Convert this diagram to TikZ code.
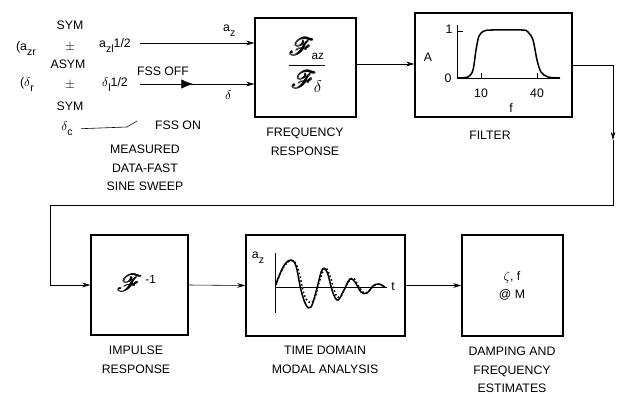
\documentclass[tikz,border=0pt]{standalone}
\usepackage{fontspec}
\setmainfont{Liberation Sans}
\usepackage{amsmath,mathrsfs}
\usetikzlibrary{arrows.meta,positioning}
\newcommand{\lsub}[1]{\raisebox{-0.4em}{\fontsize{9}{10}\selectfont #1}}

\begin{document}
\begin{tikzpicture}[x=0.03cm, y=-0.03cm,
    blockbox/.style={rectangle, draw, line width=1pt, inner sep=0pt},
    flowline/.style={-{Stealth[length=7pt,width=4pt]}, line width=0.5pt},
    caption/.style={align=center, font=\fontsize{10.5}{16}\selectfont, inner sep=0pt},
    lbl/.style={font=\fontsize{10.5}{12}\selectfont, inner sep=0pt}
  ]
    \useasboundingbox (0,0) rectangle (622,397);

    % measured inputs
    \node[lbl] (sym1) at (70,25)  {SYM};
    \node[lbl] (pm1)  at (70,47)  {$\pm$};
    \node[lbl] (asym) at (68,64)  {ASYM};
    \node[lbl] (pm2)  at (70,85)  {$\pm$};
    \node[lbl] (sym2) at (70,106) {SYM};
    \node[lbl] (dc)   at (67,129) {$\delta$\lsub{c}};
    \node[lbl] (azr)  at (26,49)  {(a\lsub{zr}};
    \node[lbl] (dr)   at (27,85)  {($\delta$\lsub{r}};
    \node[lbl] (azl)  at (115,46) {a\lsub{zl}1/2};
    \node[lbl] (dl)   at (115,85) {$\delta$\lsub{l}1/2};
    \node[lbl] (fssoff) at (163,71)  {FSS OFF};
    \node[lbl] (fsson)  at (178,125) {FSS ON};
    \node[caption] (meas) at (145,168) {MEASURED\\DATA-FAST\\SINE SWEEP};

    % blocks
    \node[blockbox, minimum width=3.03cm, minimum height=2.97cm] (freq) at (305.5,67.5) {};
    \node[blockbox, minimum width=4.71cm, minimum height=3.12cm] (filt) at (493.5,65) {};
    \node[blockbox, minimum width=2.91cm, minimum height=3cm]    (imp)  at (139.5,285) {};
    \node[blockbox, minimum width=4.77cm, minimum height=3.03cm] (tdom) at (325.5,285.5) {};
    \node[blockbox, minimum width=3.03cm, minimum height=3.03cm] (damp) at (512.5,285.5) {};

    \node[caption] (freqlbl) at (305,142) {FREQUENCY\\RESPONSE};
    \node[caption] (filtlbl) at (490,135) {FILTER};
    \node[caption] (implbl)  at (136,360) {IMPULSE\\RESPONSE};
    \node[caption] (tdomlbl) at (325,360) {TIME DOMAIN\\MODAL ANALYSIS};
    \node[caption] (damplbl) at (512,370) {DAMPING AND\\FREQUENCY\\ESTIMATES};

    % block contents
    \node (ratio) at (307,65) {\huge$\dfrac{\pmb{\mathscr{F}}_{\!\text{\normalsize az}}}{\pmb{\mathscr{F}}_{\!\delta}}$};
    \node (finv) at (137,283) {\huge$\pmb{\mathscr{F}}^{\,\text{\normalsize -1}}$};
    \node[caption] (est) at (512,286) {$\zeta$, f\\@ M};

    % filter sketch
    \draw[line width=0.6pt] (457,25) -- (457,78) -- (560,78);
    \draw[line width=0.6pt] (457,31) -- (463,31);
    \draw[line width=0.5pt] (481,73) -- (481,78) (537,73) -- (537,78);
    \draw[line width=1.3pt] plot[smooth, tension=0.5] coordinates {(457,78) (468,77) (473,70) (476,50)
      (479,36) (484,31) (492,30) (522,30) (528,32) (533,40) (537,60) (541,72) (548,77) (560,78)};
    \node[lbl] (famp) at (428,57) {A};
    \node[lbl] (fone) at (449,29) {1};
    \node[lbl] (fzero) at (448,78) {0};
    \node[lbl] (ften) at (481,93) {10};
    \node[lbl] (fforty) at (537,93) {40};
    \node[lbl] (ffreq) at (511,108) {f};

    % time history sketch
    \draw[line width=0.6pt] (275,253) -- (275,313);
    \draw[line width=0.6pt] (275,287) -- (387,287);
    \draw[line width=1.3pt] plot[smooth, tension=0.6] coordinates {(276,285) (279,276) (285,264) (291,260)
      (296,266) (301,290) (306,305) (311,307) (316,292) (322,270) (327,272) (333,293) (338,300)
      (344,290) (350,279) (355,282) (361,292) (367,293) (373,286) (379,284) (385,287)};
    \draw[line width=1.3pt, dotted] plot[smooth, tension=0.6] coordinates {(277,282) (282,270) (288,262)
      (294,261) (299,272) (304,294) (309,302) (314,300) (319,283) (325,268) (330,276) (336,295)
      (341,296) (347,284) (353,278) (358,285) (364,293) (370,290) (376,284) (383,286)};
    \node[lbl] (taz) at (258,258) {a\lsub{z}};
    \node[lbl] (ttime) at (393,287) {t};

    % input switch and arrows
    \coordinate (azin) at (140,43);
    \coordinate (dlin) at (140,84);
    \coordinate (swtip) at (193,84);
    \coordinate (swbend) at (127,127);
    \coordinate (swend) at (137,121);
    \draw[flowline] (azin) -- (azin -| freq.west) node[pos=0.78, above=5pt, lbl] {a\lsub{z}};
    \draw[flowline] (dlin) -- (dlin -| freq.west) node[pos=0.77, below=5pt, lbl] {$\delta$};
    \draw[-{Latex[length=10pt,width=8pt]}, line width=0.5pt] (dlin) -- (swtip);
    \draw[line width=0.5pt, shorten <=7pt] (dc.east) -- (swbend) -- (swend);

    % signal flow
    \coordinate (dropmid) at (613,140);
    \coordinate (turnA) at (613,205);
    \coordinate (turnB) at (50,205);
    \draw[flowline] (freq.east |- 0,64) -- (filt.west |- 0,64);
    \draw[flowline] (filt.east) -| (dropmid);
    \draw[flowline] (dropmid) -- (turnA) -- (turnB) |- (imp.west);
    \draw[flowline] (imp.east) -- (tdom.west);
    \draw[flowline] (tdom.east) -- (damp.west);
  \end{tikzpicture}
\end{document}
